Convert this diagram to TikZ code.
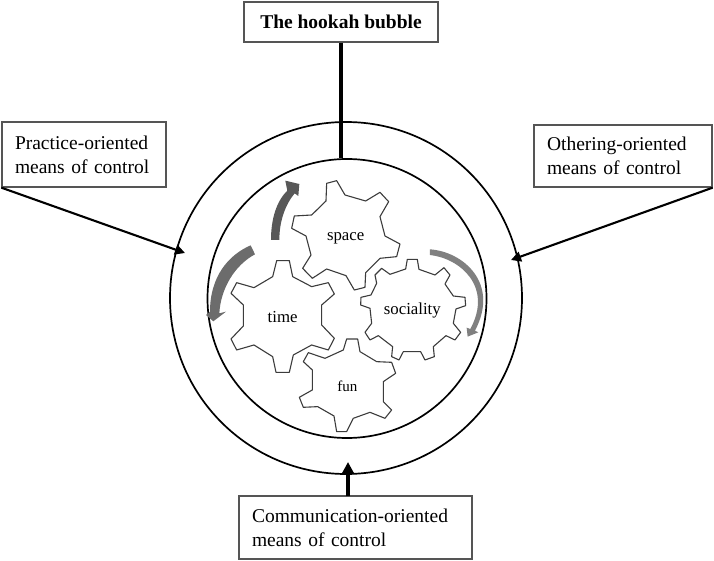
\documentclass[tikz,border=0pt]{standalone}
\usepackage{fontspec}
\setmainfont{Liberation Serif}
\usepackage{tikz}
\usetikzlibrary{arrows.meta,positioning,calc}
\definecolor{framegray}{RGB}{85,85,85}
\definecolor{geargray}{RGB}{60,60,60}
\definecolor{arcdark}{RGB}{88,88,88}
\definecolor{arcmid}{RGB}{108,108,108}
\definecolor{arclight}{RGB}{128,128,128}
\tikzset{
  ring/.style={circle,draw=black,line width=1.7pt,inner sep=0pt},
  ctrlbox/.style={rectangle,draw=framegray,line width=1.3pt,align=left,inner xsep=13pt,inner ysep=0pt,font=\fontsize{19.5}{24}\selectfont},
  titlebox/.style={rectangle,draw=framegray,line width=1.3pt,align=center,inner sep=0pt,font=\fontsize{19.5}{24}\selectfont\bfseries},
  gear/.style={draw=geargray,line width=1.1pt,fill=white,line join=round},
  gearlabel/.style={inner sep=0pt,font=\fontsize{16.8}{20}\selectfont},
  ctrlarr/.style={-{Triangle[length=10pt,width=10pt]},line width=2.1pt,draw=black},
  heavyarr/.style={-{Triangle[length=12pt,width=12pt]},line width=3.3pt,draw=black},
  ctrlline/.style={line width=3.2pt,draw=black}
}
\begin{document}
\begin{tikzpicture}[x=1pt,y=-1pt]
  \useasboundingbox (0,0) rectangle (714,561);

  \node[ring,minimum size=352pt] (outer) at (346,298) {};
  \node[ring,minimum size=279pt] (inner) at (347,298.5) {};

  \node[titlebox,minimum width=194pt,minimum height=40pt] (hookah) at (341,22) {The hookah bubble};
  \node[ctrlbox,text width=138pt,minimum height=65pt] (practice) at (84,154.5) {Practice-oriented\\means of control};
  \node[ctrlbox,text width=152pt,minimum height=62pt] (othering) at (623,156) {Othering-oriented\\means of control};
  \node[ctrlbox,text width=207pt,minimum height=63pt] (communication) at (355.5,527.5) {Communication-oriented\\means of control};

  \coordinate (practiceend) at (185,253);
  \coordinate (otheringend) at (511,260);
  \coordinate (commstart) at (348,496);
  \coordinate (commend) at (348,462);

  \draw[ctrlline] (hookah.south) -- (hookah.south |- inner.north);
  \draw[ctrlarr] (practice.south west) -- (practiceend);
  \draw[ctrlarr] (othering.south east) -- (otheringend);
  \draw[heavyarr] (commstart) -- (commend);

  \begin{scope}[shift={(200,160)},x=0.3333pt,y=-0.3333pt]
  \draw[gear] (380,70)--(410,62)--(435,105)--(497,123)--(540,97)--(566,125)--(540,170)--(555,228)--(600,252)--(590,290)--(540,295)--(497,338)--(495,382)--(463,390)--(438,347)--(380,327)--(337,355)--(308,325)--(333,285)--(318,228)--(275,205)--(283,168)--(335,165)--(378,123)--cycle;
  \draw[gear] (230,302)--(268,302)--(278,350)--(335,380)--(385,368)--(403,402)--(365,435)--(365,495)--(403,535)--(385,570)--(335,555)--(280,585)--(268,637)--(228,637)--(218,590)--(162,555)--(110,570)--(93,537)--(130,498)--(130,435)--(93,400)--(110,368)--(162,383)--(218,350)--cycle;
  \draw[gear] (622,298)--(652,298)--(657,328)--(705,345)--(732,323)--(750,345)--(735,372)--(760,408)--(795,412)--(797,437)--(768,447)--(760,490)--(782,517)--(765,540)--(738,527)--(700,560)--(703,590)--(675,600)--(662,575)--(610,575)--(597,600)--(575,590)--(578,560)--(535,527)--(510,540)--(495,517)--(515,490)--(510,445)--(482,435)--(483,412)--(513,405)--(530,370)--(525,345)--(545,325)--(570,343)--(617,327)--cycle;
  \draw[gear] (440,537)--(473,537)--(480,575)--(530,605)--(575,607)--(587,640)--(550,665)--(550,725)--(575,750)--(555,775)--(510,757)--(460,775)--(440,815)--(410,815)--(402,768)--(353,740)--(310,742)--(298,712)--(337,690)--(337,630)--(310,605)--(325,578)--(375,595)--(430,570)--cycle;

  \node[gearlabel] (space) at (437,236) {space};
  \node[gearlabel] (time) at (248,472) {time};
  \node[gearlabel] (sociality) at (637,452) {sociality};
  \node[gearlabel,font=\fontsize{15}{18}\selectfont] (fun) at (442,680) {fun};

  % curved arrows
  \fill[arcdark] (213,240) .. controls (213,180) and (228,125) .. (262,92) -- (256,62) -- (298,72) -- (295,108) -- (284,100) .. controls (255,135) and (238,185) .. (238,240) -- cycle;
  \fill[arcmid] (152,256) .. controls (85,285) and (30,350) .. (30,455) -- (18,465) -- (40,484) -- (78,455) -- (58,460) .. controls (62,385) and (105,315) .. (165,283) -- cycle;
  \fill[arclight] (690,268) .. controls (790,275) and (900,370) .. (825,512) -- (835,517) -- (803,530) -- (800,503) -- (811,507) .. controls (880,380) and (780,295) .. (690,285) -- cycle;
  \end{scope}
\end{tikzpicture}
\end{document}
